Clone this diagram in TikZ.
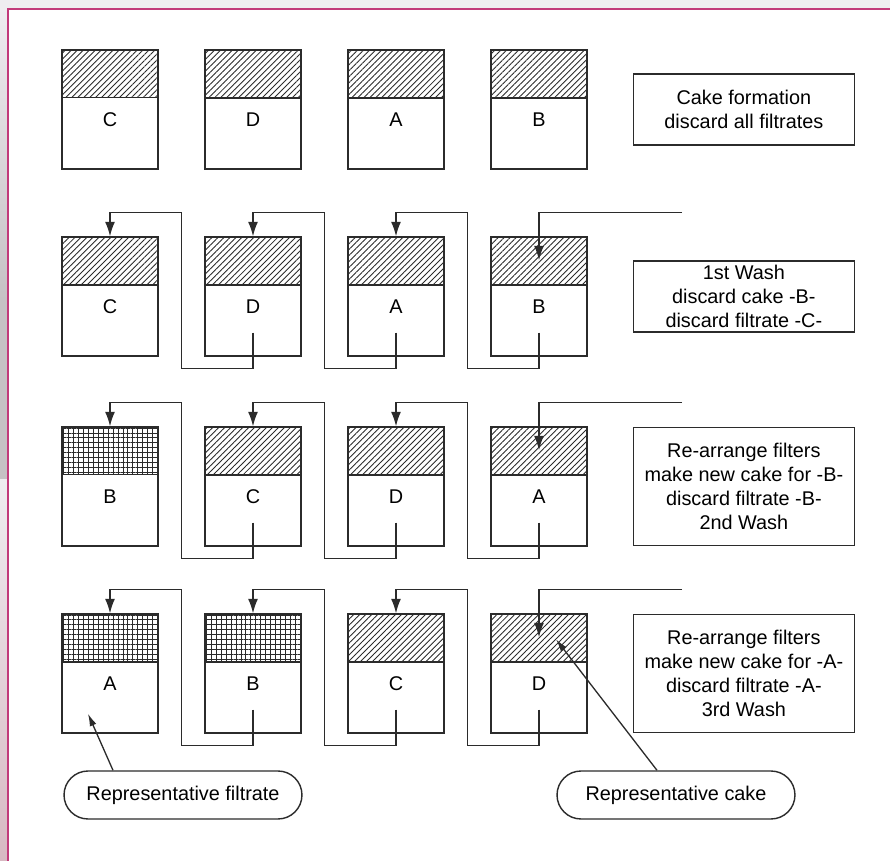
\documentclass[tikz,border=0pt]{standalone}
\usepackage{fontspec}
\setmainfont{Liberation Sans}
\usetikzlibrary{positioning,arrows.meta,calc,patterns.meta}
\definecolor{ink}{HTML}{2B2B2B}
\definecolor{rim}{HTML}{C23A7A}
\definecolor{slide}{HTML}{EFEDF0}
\definecolor{slidedk}{HTML}{C6C1C4}
\definecolor{slidepk}{HTML}{D8B8C2}

\begin{document}
\begin{tikzpicture}[x=0.02cm, y=-0.02cm, font=\fontsize{11.3}{13.7}\selectfont,
    filt/.style={draw=ink, line width=0.8pt, minimum width=1.92cm,
                 minimum height=2.38cm, inner sep=0pt},
    cake/.style={filt, minimum height=0.96cm, pattern color=ink,
                 pattern={Lines[angle=45,distance=2.4pt,line width=0.5pt]}},
    newcake/.style={filt, minimum height=0.96cm, pattern color=ink,
                 pattern={Hatch[angle=0,distance=2.8pt,line width=0.55pt]}},
    note/.style={draw=ink, line width=0.8pt, align=center, minimum width=4.42cm,
                 inner sep=2pt},
    callout/.style={draw=ink, line width=0.8pt, rounded corners=0.48cm,
                 minimum width=4.76cm, minimum height=0.96cm},
    flow/.style={draw=ink, line width=0.8pt, -{Latex[length=0.29cm,width=0.2cm]}},
    pointer/.style={draw=ink, line width=0.75pt, -{Latex[length=0.25cm,width=0.14cm]}}]
  \useasboundingbox (0,0) rectangle (890,861);
  % slide background and frame
  \fill[slide] (0,0) rectangle (890,8);
  \shade[top color=slide, bottom color=slidedk] (0,8) rectangle (7,300);
  \fill[slidedk] (0,300) rectangle (7,480);
  \shade[top color=slide, bottom color=slidepk] (0,480) rectangle (7,861);
  \draw[rim, line width=1.1pt] (890,9) -- (8,9) -- (8,861);
  % filters: one row per step, cake on top
  \foreach \i/\yy/\cells in {1/50/{C/cake,D/cake,A/cake,B/cake},
                             2/237/{C/cake,D/cake,A/cake,B/cake},
                             3/427/{B/newcake,C/cake,D/cake,A/cake},
                             4/614/{A/newcake,B/newcake,C/cake,D/cake}}
    \foreach \lab/\kind [count=\k] in \cells {
      \node[filt] (f\i\k) at ({110+143*(\k-1)}, {\yy+59.5}) {};
      \node[\kind, anchor=north] (h\i\k) at (f\i\k.north) {};
      \node (t\i\k) at ($(f\i\k.north)+(0,70)$) {\lab};
    }
  % step descriptions
  \node[note, minimum height=1.42cm, right=0.9cm of f14] (n1)
       {Cake formation\\discard all filtrates};
  \node[note, minimum height=1.42cm, right=0.9cm of f24] (n2)
       {1st Wash\\discard cake -B-\\discard filtrate -C-};
  \node[note, minimum height=2.36cm, right=0.9cm of f34] (n3)
       {Re-arrange filters\\make new cake for -B-\\discard filtrate -B-\\2nd Wash};
  \node[note, minimum height=2.36cm, right=0.9cm of f44] (n4)
       {Re-arrange filters\\make new cake for -A-\\discard filtrate -A-\\3rd Wash};
  % wash liquor runs right to left, filtrate of one filter onto the next cake
  \foreach \i in {2,3,4} {
    \foreach \k [evaluate=\k as \n using int(\k+1)] in {1,2,3}
      \draw[flow] ($(f\i\n.south)+(0,-24)$) -- ++(0,36)
                  -| ($(f\i\k.north east)+(23,-24)$) -| (f\i\k.north);
    \coordinate (in\i) at ($(f\i4.north)+(143,-24)$);
    \draw[flow] (in\i) -| ($(f\i4.north)+(0,24)$);
  }
  % representative samples
  \node[callout] (rf) at (183,795) {Representative filtrate};
  \node[callout] (rc) at (676,795) {Representative cake};
  \draw[pointer] ($(rf.north)+(-70,0)$) -- ($(f41.south)+(-22,-20)$);
  \draw[pointer] ($(rc.north)+(-19,0)$) -- ($(f44.north)+(17,26)$);
\end{tikzpicture}
\end{document}
